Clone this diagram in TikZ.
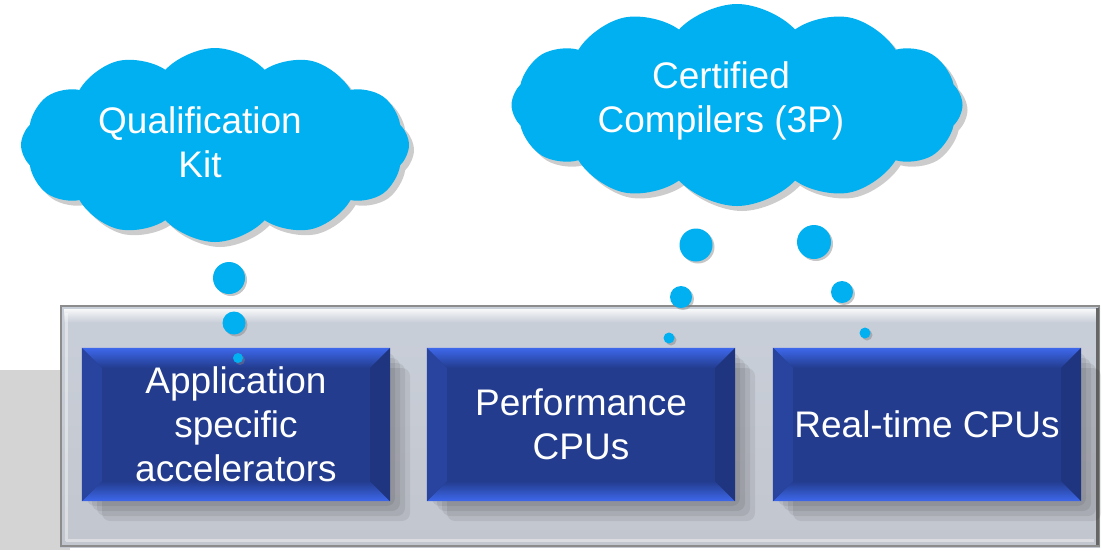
\documentclass[tikz,border=0pt]{standalone}
\usepackage{fontspec}
\setmainfont{Liberation Sans}
\usetikzlibrary{shapes.symbols, shadows, calc}
\definecolor{bubblecyan}{HTML}{00B0F0}
\definecolor{boxface}{HTML}{233C8E}
\definecolor{boxlight}{HTML}{3E68EC}
\definecolor{boxdark}{HTML}{1F3580}
\definecolor{panelhi}{HTML}{C9CFD9}
\definecolor{panelmid}{HTML}{ABAFB7}
\definecolor{panellow}{HTML}{C2C6CE}
\definecolor{bggray}{HTML}{D4D4D4}
\newcommand{\bigfont}{\fontsize{37}{44}\selectfont}
\tikzset{
  thought/.style={cloud, cloud puffs=12, cloud puff arc=95, cloud ignores aspect, fill=bubblecyan, inner sep=0pt,
    drop shadow={shadow xshift=5pt, shadow yshift=-5pt, opacity=.4}},
  bubble/.style={circle, fill=bubblecyan, inner sep=0pt, drop shadow={shadow xshift=2pt, shadow yshift=-2pt, opacity=.45}},
  cpubox/.style={rectangle, fill=boxface, minimum width=308pt, minimum height=153pt, inner sep=0pt},
  saytext/.style={text=white, align=center, font=\bigfont}
}
\begin{document}
\begin{tikzpicture}[x=1pt, y=-1pt]
\useasboundingbox (0,0) rectangle (1102,550);
\fill[bggray] (0,370) rectangle (70,550);
\shade[top color=panelhi, middle color=panelmid, bottom color=panellow] (60,305) rectangle (1100,547);
\shade[top color=white!85!panelhi, bottom color=panelhi] (64,309) rectangle (1096,322);
\draw[white, opacity=.4, line width=3pt] (66,313) -- (66,541) (66,540) -- (1094,540);
\draw[black!45, line width=1.5pt] (61,306) rectangle (1099,546);
\draw[black!60, line width=3pt] (1097,308) -- (1097,545);
\foreach \nm/\cx/\txt in {acc/236/{Application\\specific\\accelerators}, perf/581/{Performance\\CPUs}, rt/927/{Real-time CPUs}} {
\foreach \s in {5,10,15,20} \fill[black, opacity=.07, rounded corners=8pt] (\cx-154+\s,348+\s) rectangle (\cx+154+\s,501+\s);
\node[cpubox] (\nm) at (\cx,424.5) {};
\shade[top color=boxlight, bottom color=boxface] (\nm.north west) -- (\nm.north east) -- ++(-20,20) -- ($(\nm.north west)+(20,20)$) -- cycle;
\shade[top color=boxface, bottom color=boxlight] (\nm.south west) -- (\nm.south east) -- ++(-20,-20) -- ($(\nm.south west)+(20,-20)$) -- cycle;
\fill[boxface!82!boxlight] (\nm.north west) -- ++(20,20) -- ($(\nm.south west)+(20,-20)$) -- (\nm.south west) -- cycle;
\fill[boxdark] (\nm.north east) -- ++(-20,20) -- ($(\nm.south east)+(-20,-20)$) -- (\nm.south east) -- cycle;
\fill[boxface] ($(\nm.north west)+(20,20)$) rectangle ($(\nm.south east)+(-20,-20)$);
\node[saytext] (\nm-t) at (\nm) {\txt};
}
\node[thought, minimum width=388pt, minimum height=194pt] (qkit) at (215,145) {};
\node[saytext] (qkit-t) at (200,142) {Qualification\\Kit};
\node[thought, minimum width=451pt, minimum height=202pt] (ccomp) at (737,105) {};
\node[saytext] (ccomp-t) at (721,101) {Certified\\Compilers (3P)};
\foreach \nm/\x/\y/\d in {q1/229/278/32, q2/234/323/23, q3/238/358/10, c1/696/245/33, c2/681/297/22, c3/669/338/11, c4/814/242/34, c5/842/292/22, c6/865/333/11}
  \node[bubble, minimum size=\d pt] (\nm) at (\x,\y) {};
\end{tikzpicture}
\end{document}
